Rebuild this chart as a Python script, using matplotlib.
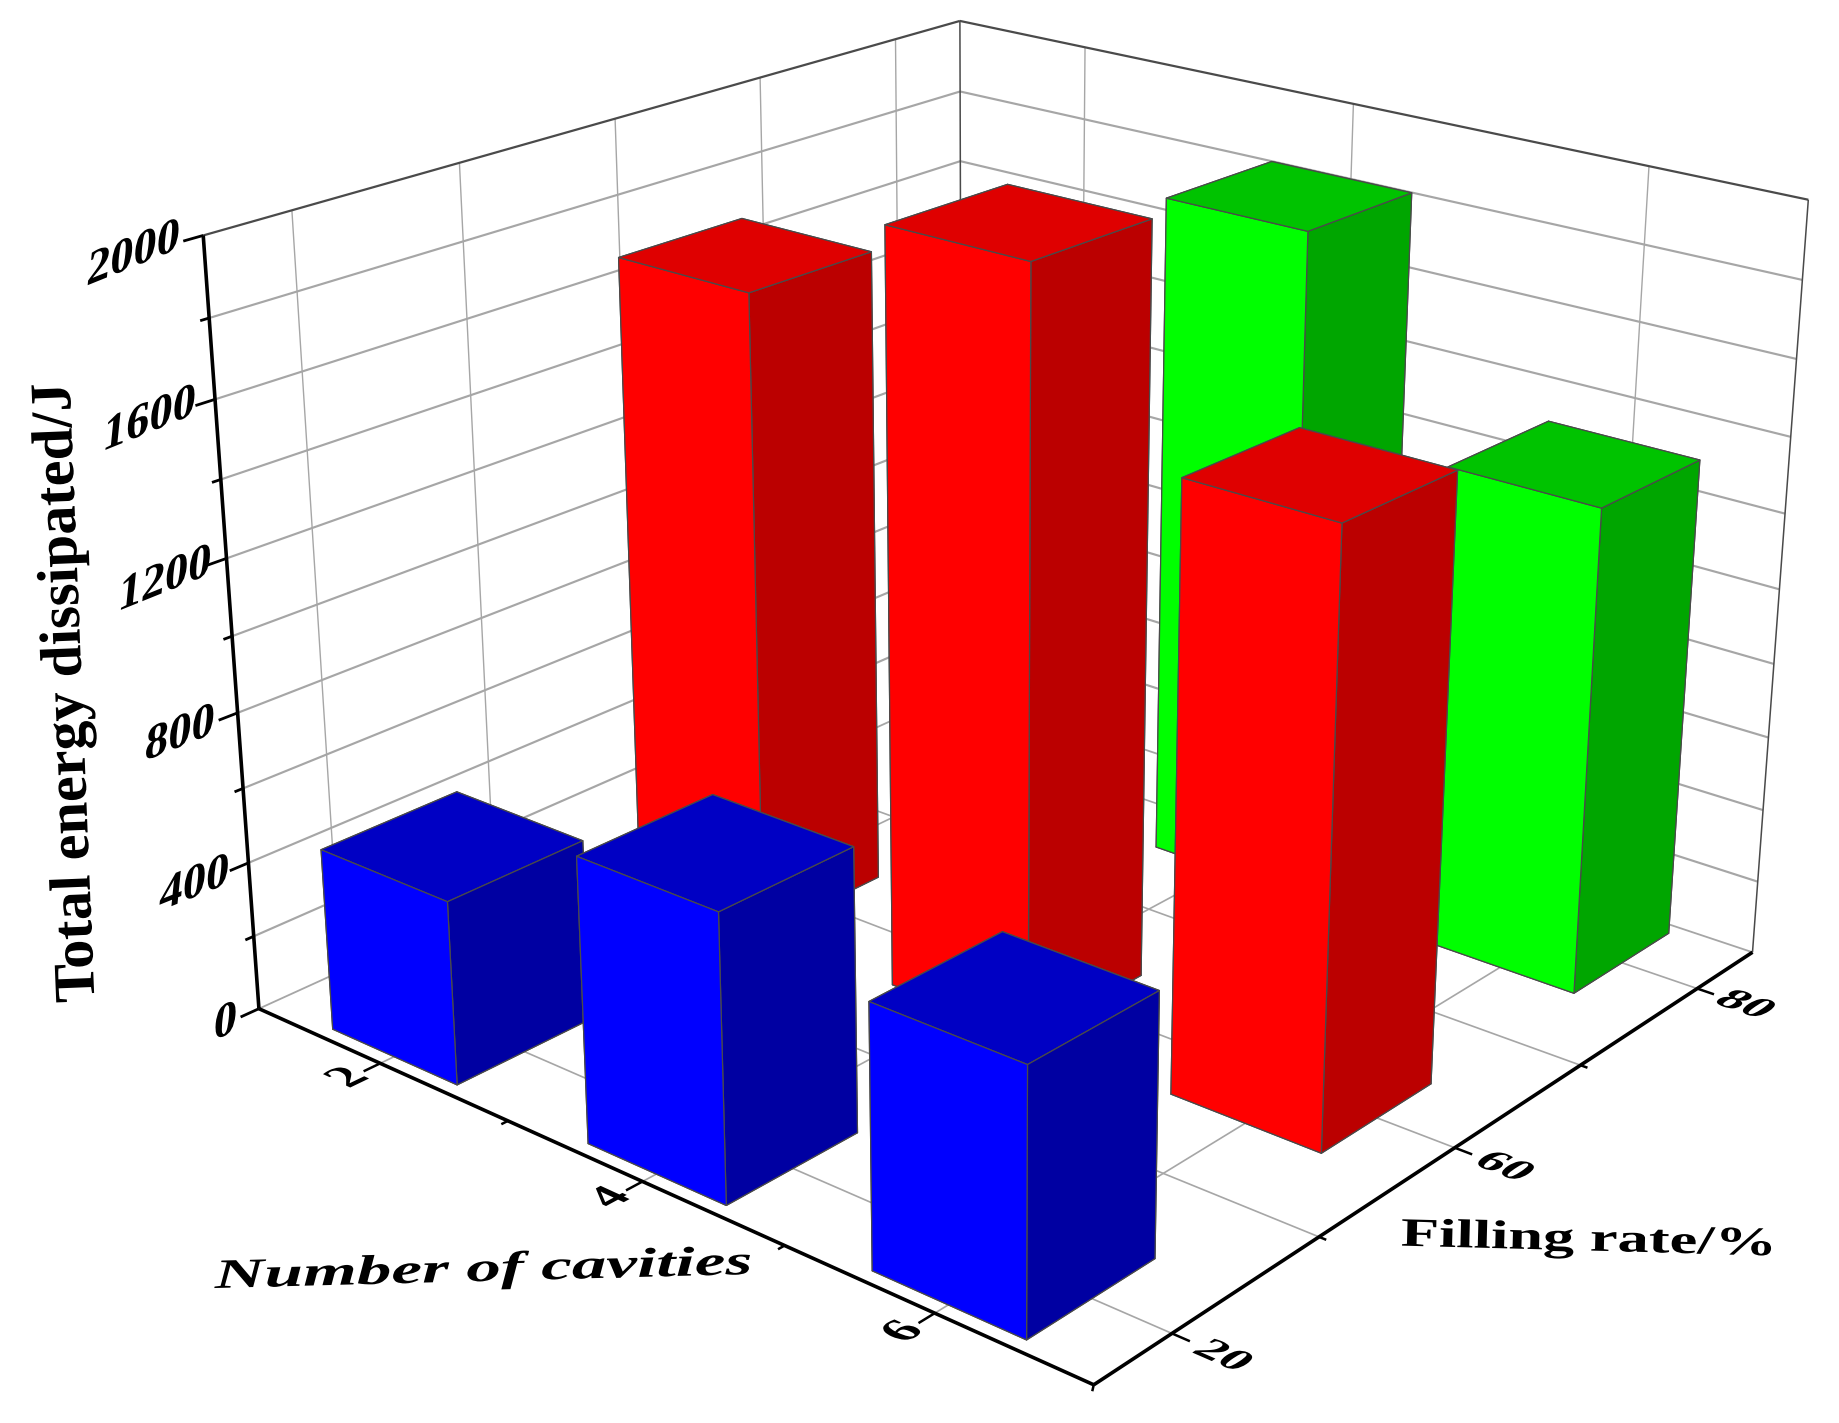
import numpy as np
import matplotlib
matplotlib.use('Agg')
import matplotlib.pyplot as plt
import matplotlib.patheffects as pe
from matplotlib.transforms import Affine2D
from mpl_toolkits.mplot3d import proj3d
from mpl_toolkits.mplot3d.art3d import Line3DCollection

# ---- data ----
cavities = [2, 4, 6]
filling_labels = ['20', '60', '80']
filling_pos = [0, 1, 2]
blue_values = [487, 741, 667]     # filling 20
red_values = [1730, 1989, 1570]   # filling 60
green_cav = [4, 6]
green_values = [1815, 1300]       # filling 80
z_major = [0, 400, 800, 1200, 1600, 2000]
z_minor = [200, 600, 1000, 1400, 1800]
x_minor = [3, 5]
y_ticks = [0, 0.5, 1, 1.5, 2]
x_lim = (1, 7)
y_lim = (-0.25, 2.25)
z_lim = (0, 2000)

W, H = 1840, 1423
plt.rcParams['font.family'] = ['Liberation Serif', 'DejaVu Serif']

# camera calibrated to the reference (data -> image pixels)
P = np.array([[72.58122793242248, 227.65654682382083, -0.02273173323853389, 152.40637053239087],
              [18.23745404871009, -50.78492144641405, -0.25634976859041153, 623.808466860963],
              [-0.016213928848368392, 0.046933337451737535, -2.2897642943440256e-05, 0.6770569966402288]])
M = np.vstack([P[0], P[1], P[2] - np.array([0, 0, 0, 0.3]), P[2]])

fig = plt.figure(figsize=(W / 100, H / 100), dpi=100, facecolor='white')
ax = fig.add_axes([0, (H - W) / 2 / H, 1, W / H], projection='3d', computed_zorder=False)
ax.set_axis_off()
ax.get_proj = lambda: M
ax.M = M

x0, x1 = x_lim
y0, y1 = y_lim
z0, z1 = z_lim
GRID = '#a6a6a6'
EDGE = '#4a4a4a'


def line(xs, ys, zs, c, lw, zo=1):
    seg = [list(zip(xs, ys, zs))]
    col = Line3DCollection(seg, colors=c, linewidths=lw, zorder=zo, capstyle='butt')
    ax.add_collection3d(col, autolim=False)


# left wall and back wall grid
for z in z_major + z_minor:
    if z in (z0, z1):
        continue
    line([x0, x0], [y0, y1], [z, z], GRID, 1.55)
    line([x0, x1], [y1, y1], [z, z], GRID, 1.55)
for y in y_ticks:
    line([x0, x0], [y, y], [z0, z1], GRID, 1.0)
    line([x0, x1], [y, y], [z0, z0], GRID, 1.2)
for x in cavities:
    line([x, x], [y1, y1], [z0, z1], GRID, 1.0)
    line([x, x], [y0, y1], [z0, z0], GRID, 1.2)
# floor border and frame
line([x0, x0], [y0, y1], [z0, z0], GRID, 1.3)
line([x0, x1], [y1, y1], [z0, z0], GRID, 1.3)
line([x0, x0], [y0, y1], [z1, z1], EDGE, 1.6)
line([x0, x1], [y1, y1], [z1, z1], EDGE, 1.6)
line([x0, x0], [y1, y1], [z0, z1], EDGE, 1.1)
line([x1, x1], [y1, y1], [z0, z1], EDGE, 1.1)

# black axes and ticks
AXW = 2.6
line([x0, x0], [y0, y0], [z0, z1], 'black', AXW, 5)
line([x0, x1], [y0, y0], [z0, z0], 'black', AXW, 5)
line([x1, x1], [y0, y1], [z0, z0], 'black', AXW, 5)
for z in z_major:
    line([x0, x0], [y0, y0 - 0.055], [z, z], 'black', 2.0, 5)
for z in z_minor:
    line([x0, x0], [y0, y0 - 0.025], [z, z], 'black', 2.0, 5)
for x in cavities:
    line([x, x], [y0, y0 - 0.05], [z0, z0], 'black', 1.8, 5)
for x in x_minor:
    line([x, x], [y0, y0 - 0.02], [z0, z0], 'black', 1.8, 5)
for y in filling_pos:
    line([x1, x1 + 0.11], [y, y], [z0, z0], 'black', 1.8, 5)
for y in (0.5, 1.5):
    line([x1, x1 + 0.045], [y, y], [z0, z0], 'black', 1.8, 5)
line([x1, x1 + 0.03], [y0, y0 - 0.02], [z0, z0], 'black', 1.8, 5)

# bars
half_x, half_y = 0.5, 0.208
series = [
    (cavities, 0, blue_values, '#0000ff', '#0000c4', '#0000a2'),
    (cavities, 1, red_values, '#ff0000', '#df0000', '#bb0000'),
    (green_cav, 2, green_values, '#00ff00', '#00c300', '#00a600'),
]
bars = []
for cavs, yp, vals, cf, ct, cs in series:
    for cav, val in zip(cavs, vals):
        depth = P[2] @ np.array([cav, yp, 0, 1.0])
        bars.append((depth, cav, yp, val, cf, ct, cs))
bars.sort(key=lambda b: -b[0])
for i, (_, cav, yp, val, cf, ct, cs) in enumerate(bars):
    # face order: bottom, top, -y, +y, -x, +x
    cols = [cs, ct, cf, cs, cs, cs]
    ax.bar3d(cav - half_x, yp - half_y, 0, 2 * half_x, 2 * half_y, val, color=cols,
             shade=False, edgecolor=EDGE, linewidth=0.9, zorder=10 + i)


class Warp(pe.AbstractPathEffect):
    """Linear warp of the glyphs about the text centre: b = baseline vector, n = glyph-up vector."""

    def __init__(self, b=(1, 0), n=(0, 1)):
        super().__init__()
        self.b, self.n = b, n

    def draw_path(self, renderer, gc, tpath, affine, rgbFace=None):
        e = tpath.get_extents()
        cx, cy = e.x0 + e.width / 2, e.y0 + e.height / 2
        m = Affine2D(np.array([[self.b[0], self.n[0], 0], [self.b[1], self.n[1], 0], [0, 0, 1.0]]))
        t = Affine2D().translate(-cx, -cy) + m + Affine2D().translate(cx, cy)
        renderer.draw_path(gc, tpath, t + affine, rgbFace)


def px(x, y, z):
    u, v, _ = proj3d.proj_transform(x, y, z, M)
    return np.array([float(u), float(v)])


def label_px(u, v, s, size, rot=0, b=(1, 0), n=(0, 1), **kw):
    t = ax.text2D(u, v, s, transform=ax.transData, fontsize=size, rotation=rot,
                  rotation_mode='anchor', ha='center', va='center', fontweight='bold',
                  zorder=30, **kw)
    t.set_path_effects([Warp(b, n)])
    return t


def floor_dir(p, q, scale):
    d = px(*q) - px(*p)
    d = d / np.hypot(*d) * scale
    return (d[0], -d[1])


# value-axis tick labels: baseline rising, glyph stems leaning slightly
rot = np.radians(22)
for z in z_major:
    off = 0.15 + 2e-5 * z if z > 0 else 0.1
    u, v = px(x0, y0 - off, z)
    label_px(u, v, str(z), 36, 0, b=(1.0 * np.cos(rot), 1.0 * np.sin(rot)), n=(0.1, 1))
# cavity labels lie flat on the floor
for x in cavities:
    c = (x, y0 - 0.105, z0)
    u, v = px(*c)
    label_px(u, v, str(x), 29,
             b=floor_dir(c, (x, y0 + 0.1, z0), 1.25),
             n=floor_dir(c, (x - 0.3, y0 - 0.105, z0), 1.2))
# filling labels lie flat on the floor
for y, s in zip(filling_pos, filling_labels):
    c = (x1 + 0.33, y - 0.005, z0)
    u, v = px(*c)
    label_px(u, v, s, 26,
             b=floor_dir(c, (x1 + 0.6, y - 0.005, z0), 1.42),
             n=floor_dir(c, (x1 + 0.33, y + 0.2, z0), 1.1))

# axis titles
label_px(68, 692, 'Total energy dissipated/J', 42, 92.3)
label_px(483, 1271, 'Number of cavities', 30, 1.5, b=(1.66, 0), n=(0, 1), style='italic')
label_px(1588, 1241, 'Filling rate/%', 29, -1.5, b=(1.55, 0), n=(0, 1))

ax.viewLim.intervalx = (0, W)
ax.viewLim.intervaly = ((H + W) / 2, (H - W) / 2)

fig.savefig('out.png', dpi=100, facecolor='white')
